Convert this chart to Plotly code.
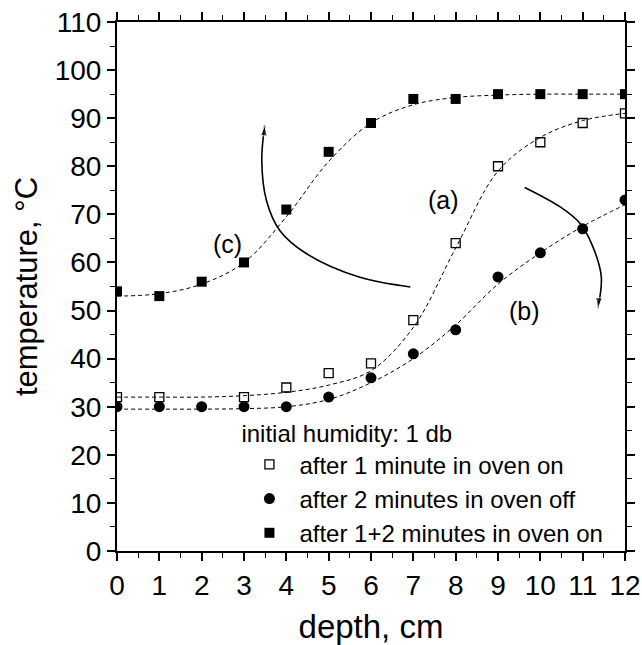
import plotly.graph_objects as go

# ---- data ----
depth = [0, 1, 2, 3, 4, 5, 6, 7, 8, 9, 10, 11, 12]
depth_a = [0, 1, 3, 4, 5, 6, 7, 8, 9, 10, 11, 12]
temp_a = [32, 32, 32, 34, 37, 39, 48, 64, 80, 85, 89, 91]          # after 1 minute in oven on
temp_b = [30, 30, 30, 30, 30, 32, 36, 41, 46, 57, 62, 67, 73]      # after 2 minutes in oven off
temp_c = [54, 53, 56, 60, 71, 83, 89, 94, 94, 95, 95, 95, 95]      # after 1+2 minutes in oven on

# fitted (dashed) curves
fit_a = [32, 32, 32, 32.3, 33, 34.5, 37.5, 46.5, 63, 79, 86, 89.5, 91]
fit_b = [29.5, 29.5, 29.5, 29.6, 30, 31.5, 35, 40, 47, 55.5, 62, 67.5, 72]
fit_c = [53, 53.5, 55.5, 60, 69.5, 81, 89, 92.8, 94.3, 94.8, 95, 95, 95]

# curved arrows (annotation paths)
arrow1_x = [6.93, 5.74, 4.48, 3.85, 3.53, 3.42, 3.49]
arrow1_y = [54.9, 56.9, 61.8, 66.6, 72.9, 81.2, 88.5]
arrow2_x = [9.63, 10.46, 10.93, 11.24, 11.44, 11.36]
arrow2_y = [75.6, 71.6, 68.2, 63.3, 57.0, 50.5]

labels = ["(a)", "(b)", "(c)"]
label_x = [7.72, 9.63, 2.6]
label_y = [72.9, 50.0, 63.8]

names = ["after 1 minute in oven on", "after 2 minutes in oven off", "after 1+2 minutes in oven on"]

FONT = "Liberation Sans, Arial, sans-serif"
fig = go.Figure()

# fit lines
for fy in (fit_a, fit_b, fit_c):
    fig.add_trace(go.Scatter(x=depth, y=fy, mode="lines", showlegend=False, hoverinfo="skip",
                             line=dict(color="black", width=1, dash="4px,3px", shape="spline")))

# data markers
fig.add_trace(go.Scatter(x=depth_a, y=temp_a, mode="markers", name=names[0],
                         marker=dict(symbol="square-open", size=9, color="black", line=dict(width=1.3))))
fig.add_trace(go.Scatter(x=depth, y=temp_b, mode="markers", name=names[1],
                         marker=dict(symbol="circle", size=11, color="black")))
fig.add_trace(go.Scatter(x=depth, y=temp_c, mode="markers", name=names[2],
                         marker=dict(symbol="square", size=10, color="black")))

# arrows
for ax_, ay_ in ((arrow1_x, arrow1_y), (arrow2_x, arrow2_y)):
    n = len(ax_)
    fig.add_trace(go.Scatter(x=ax_, y=ay_, mode="lines+markers", showlegend=False, hoverinfo="skip",
                             line=dict(color="black", width=1.6, shape="spline"),
                             marker=dict(symbol="arrow", angleref="previous", color="black",
                                         size=[0] * (n - 1) + [11])))

for t, lx, ly in zip(labels, label_x, label_y):
    fig.add_annotation(x=lx, y=ly, text=t, showarrow=False, font=dict(size=25, color="black", family=FONT))

axis_common = dict(showline=True, linecolor="black", linewidth=2, mirror="allticks",
                   ticks="outside", ticklen=8, tickwidth=1.5, tickcolor="black",
                   showgrid=False, zeroline=False, automargin=False,
                   tickfont=dict(size=28, color="black", family=FONT))

fig.update_xaxes(range=[0, 12], dtick=1, tick0=0,
                 minor=dict(ticks="outside", ticklen=5, dtick=0.5, tickwidth=1.2, tickcolor="black"),
                 title=dict(text="depth, cm", font=dict(size=33, color="black", family=FONT), standoff=16),
                 **axis_common)
fig.update_yaxes(range=[0, 110], dtick=10, tick0=0,
                 minor=dict(ticks="outside", ticklen=5, dtick=5, tickwidth=1.2, tickcolor="black"),
                 title=dict(text="temperature, °C\u00a0\u00a0", font=dict(size=31, color="black", family=FONT),
                            standoff=8),
                 **axis_common)

fig.update_layout(
    width=642, height=645,
    margin=dict(l=117, r=17, t=22, b=94),
    plot_bgcolor="white", paper_bgcolor="white",
    font=dict(family=FONT, color="black"),
    legend=dict(x=0.241, y=0.2645, xanchor="left", yanchor="top",
                bgcolor="rgba(0,0,0,0)", borderwidth=0,
                title=dict(text="initial humidity: 1 db", font=dict(size=24, color="black", family=FONT)),
                font=dict(size=24, color="black", family=FONT),
                itemsizing="trace", itemwidth=50, tracegroupgap=0),
)

fig.write_html("out.html", config={"displayModeBar": False},
               post_script="document.body.style.margin='0';document.body.style.overflow='hidden';")
